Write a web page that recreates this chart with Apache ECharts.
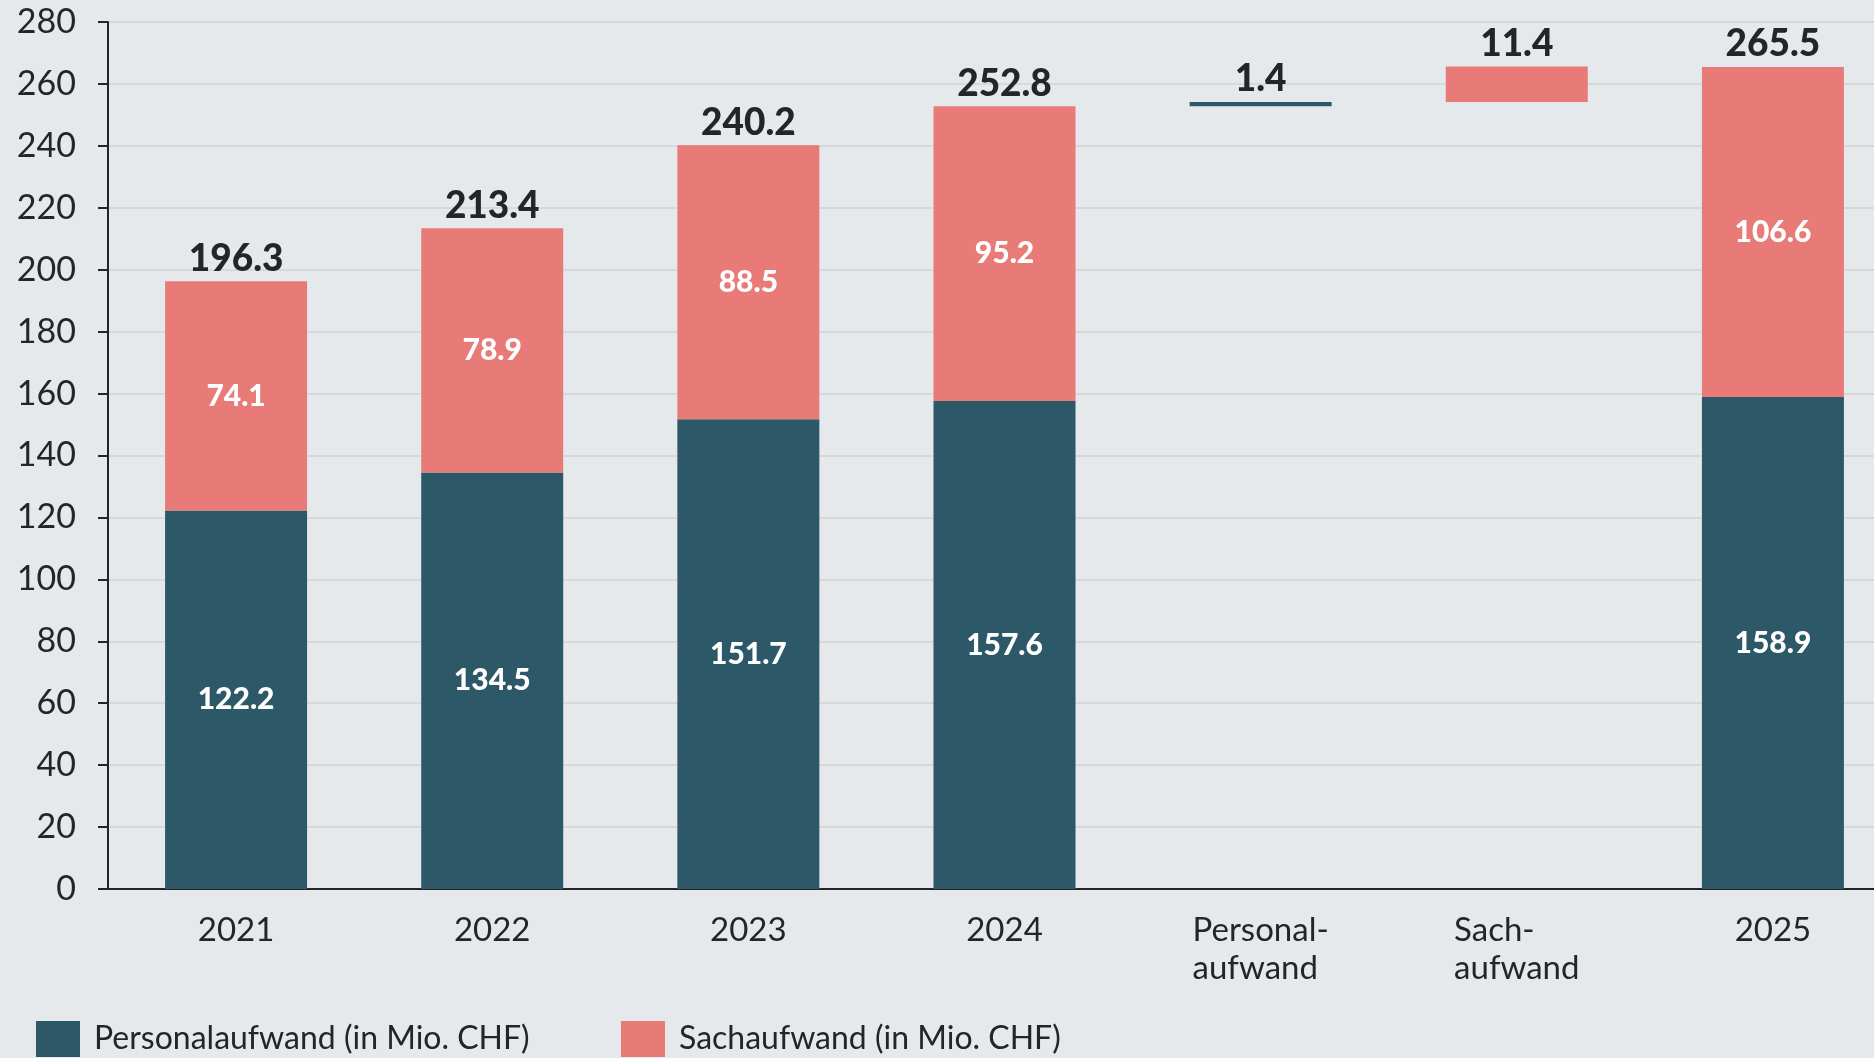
<!DOCTYPE html>
<html>
<head>
<meta charset="utf-8">
<script src="https://cdn.jsdelivr.net/npm/echarts@6/dist/echarts.min.js"></script>
<style>
    html, body {margin: 0; padding: 0; background: #e6e9ec; overflow: hidden;}
    /* etwas breiter als das Fenster: der letzte Balken reicht bis an den Rand */
    #chart {width: 1901px; height: 1058px;}
</style>
</head>
<body>
<div id="chart"></div>
<script>
// Aufwand in Mio. CHF
var categories = ['2021', '2022', '2023', '2024', 'Personal-\naufwand', 'Sach-\naufwand', '2025'];
var personal = [122.2, 134.5, 151.7, 157.6, 1.4, null, 158.9];
var sach = [74.1, 78.9, 88.5, 95.2, null, 11.4, 106.6];
// unsichtbarer Sockel fuer die Veraenderungsbalken
var base = [null, null, null, null, 252.8, 254.2, null];
var totals = [196.3, 213.4, 240.2, 252.8, 1.4, 11.4, 265.5];
var yTicks = {min: 0, max: 280, interval: 20};

var dark = '#2c5868';
var pink = '#e87b78';
var ink = '#22262b';
var font = 'Lato';

function inner(arr) {
    return arr.map(function (v, i) {
        if (base[i] !== null) {
            return {value: v, label: {show: false}};
        }
        return v;
    });
}

function legendAt(name, left) {
    return {
        data: [name], left: left, top: 1021, padding: 0,
        icon: 'rect', itemWidth: 44, itemHeight: 36,
        textStyle: {fontSize: 32, color: ink, fontFamily: font, padding: [0, 0, 0, 9]}
    };
}

var e = echarts.init(document.getElementById('chart'));
e.setOption({
    backgroundColor: '#e6e9ec',
    animation: false,
    textStyle: {fontFamily: font},
    grid: {left: 108, right: 0, top: 22, bottom: 169, containLabel: false},
    legend: [
        legendAt('Personalaufwand (in Mio. CHF)', 36),
        legendAt('Sachaufwand (in Mio. CHF)', 621)
    ],
    xAxis: {
        type: 'category',
        data: categories,
        axisTick: {show: false},
        axisLine: {lineStyle: {color: ink, width: 2}},
        axisLabel: {
            margin: 22, fontSize: 33, color: ink, lineHeight: 38,
            formatter: function (v) {
                if (v.indexOf('\n') < 0) {
                    return v;
                }
                return v.split('\n').map(function (s) { return '{l|' + s + '}'; }).join('\n');
            },
            rich: {l: {align: 'left', fontSize: 33, color: ink, lineHeight: 38, fontFamily: font}}
        }
    },
    yAxis: {
        type: 'value',
        min: yTicks.min, max: yTicks.max, interval: yTicks.interval,
        axisLine: {show: true, lineStyle: {color: ink, width: 2}},
        axisTick: {show: true, length: 10, lineStyle: {color: ink, width: 2}},
        axisLabel: {margin: 32, fontSize: 34, color: ink},
        splitLine: {lineStyle: {color: '#d8d8da', width: 2}}
    },
    series: [
        {
            name: 'base', type: 'bar', stack: 'a', barWidth: 142,
            data: base, itemStyle: {color: 'transparent'}, silent: true
        },
        {
            name: 'Personalaufwand (in Mio. CHF)', type: 'bar', stack: 'a', barWidth: 142,
            data: inner(personal), itemStyle: {color: dark},
            label: {
                show: true, position: 'inside', color: '#fff',
                fontSize: 30, fontWeight: 900, fontFamily: font,
                formatter: function (p) { return p.value.toFixed(1); }
            }
        },
        {
            name: 'Sachaufwand (in Mio. CHF)', type: 'bar', stack: 'a', barWidth: 142,
            data: inner(sach), itemStyle: {color: pink},
            label: {
                show: true, position: 'inside', color: '#fff',
                fontSize: 30, fontWeight: 900, fontFamily: font,
                formatter: function (p) { return p.value.toFixed(1); }
            }
        },
        {
            name: 'total', type: 'bar', stack: 'a', barWidth: 142,
            data: totals.map(function () { return 0; }),
            itemStyle: {color: 'transparent'},
            label: {
                show: true, position: 'top', distance: 4, color: ink,
                fontSize: 37, fontWeight: 900, fontFamily: font,
                formatter: function (p) { return totals[p.dataIndex].toFixed(1); }
            }
        }
    ]
});
</script>
</body>
</html>
